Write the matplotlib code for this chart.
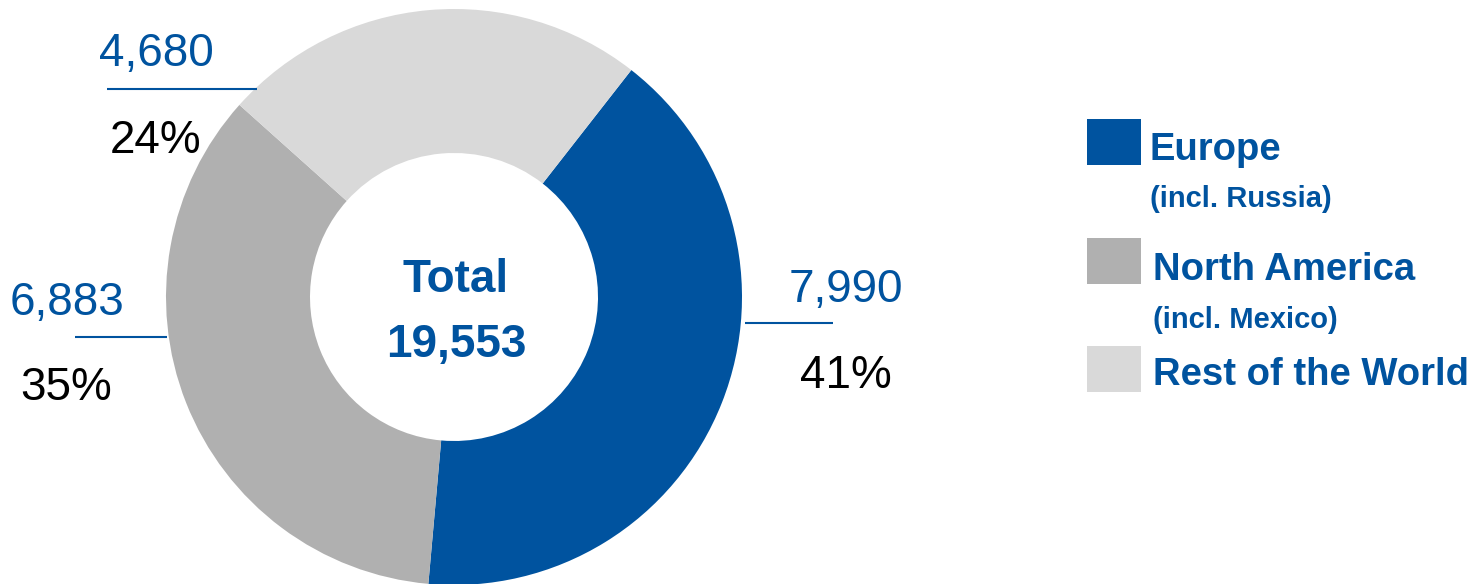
import matplotlib
matplotlib.use("Agg")
import matplotlib.pyplot as plt
from matplotlib.patches import Rectangle

# Regional breakdown
regions = ["Europe", "North America", "Rest of the World"]
sublabels = ["(incl. Russia)", "(incl. Mexico)", ""]
values = [7990, 6883, 4680]
colors = ["#00539F", "#B0B0B0", "#D9D9D9"]

BLUE = "#00539F"
plt.rcParams["font.family"] = ["Liberation Sans", "DejaVu Sans"]

W, H = 1478, 584
fig = plt.figure(figsize=(W / 100, H / 100), dpi=100)
ax = fig.add_axes([0, 0, 1, 1])


def py(y):
    """Convert a top-down pixel row to the axes' y coordinate."""
    return H - y


total = sum(values)
cx, cy, r = 454, 297, 288

ax.pie(values, colors=colors, startangle=52, counterclock=False,
       radius=r, center=(cx, py(cy)),
       wedgeprops=dict(width=r * 0.5, linewidth=0))

ax.set_xlim(0, W)
ax.set_ylim(0, H)
ax.set_aspect("equal")
ax.axis("off")

# Centre total
ax.text(cx + 2, py(292), "Total", ha="center", va="baseline",
        fontsize=33, fontweight="bold", color=BLUE)
ax.text(cx + 2, py(357), f"{total:,}", ha="center", va="baseline",
        fontsize=33, fontweight="bold", color=BLUE)

# Value / share callouts: (line x0, line x1, line y, value x, value baseline, pct x, pct baseline)
callouts = [
    (745, 833, 323, 846, 302, 846, 388),
    (75, 167, 337, 67, 315, 66, 400),
    (107, 257, 89, 156, 66, 156, 153),
]
for v, (x0, x1, ly, vx, vy, px_, pyy) in zip(values, callouts):
    ax.plot([x0, x1], [py(ly), py(ly)], color=BLUE, lw=1.5,
            solid_capstyle="butt")
    ax.text(vx, py(vy), f"{v:,}", ha="center", va="baseline",
            fontsize=33, color=BLUE)
    ax.text(px_, py(pyy), f"{round(v / total * 100)}%", ha="center",
            va="baseline", fontsize=33, color="black")

# Legend
legend_rows = [(119, 160, 207, 1150), (238, 280, 328, 1153), (346, 385, None, 1153)]
for name, sub, col, (top, base, subbase, tx) in zip(regions, sublabels, colors, legend_rows):
    ax.add_patch(Rectangle((1087, py(top + 46)), 54, 46, facecolor=col,
                           edgecolor="none"))
    ax.text(tx, py(base), name, ha="left", va="baseline", fontsize=27.5,
            fontweight="bold", color=BLUE)
    if sub:
        ax.text(tx, py(subbase), sub, ha="left", va="baseline",
                fontsize=21, fontweight="bold", color=BLUE)

fig.savefig("out.png", dpi=100)
